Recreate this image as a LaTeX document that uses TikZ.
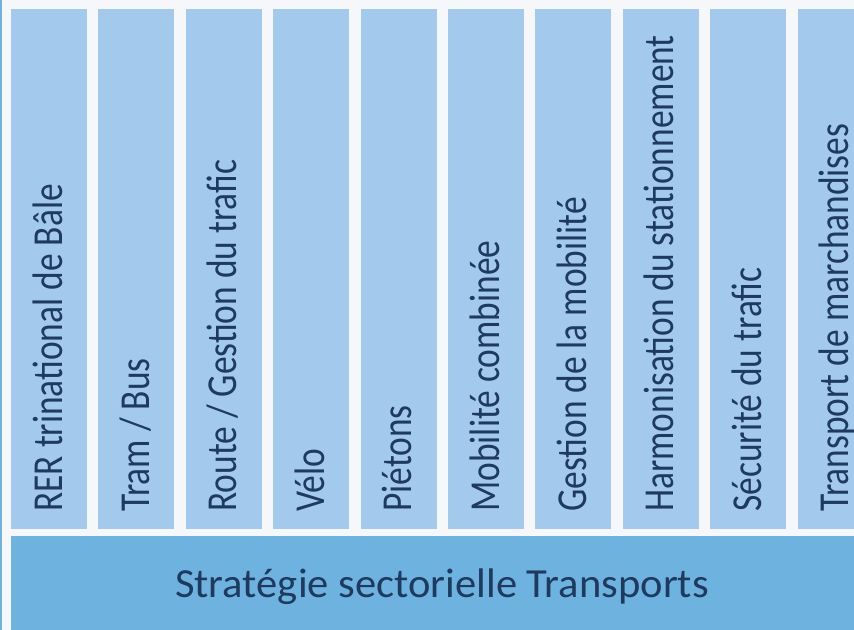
\documentclass[tikz,border=0pt]{standalone}
\usepackage{fontspec}
\setmainfont{Carlito}
\definecolor{pagebg}{HTML}{F5F7FB}
\definecolor{colfill}{HTML}{A3CAEC}
\definecolor{barfill}{HTML}{6EB2E0}
\definecolor{labelblue}{HTML}{1F3A5F}
\newcommand{\narrowtext}[1]{\scalebox{0.83}[1]{#1}}
\begin{document}
\begin{tikzpicture}[x=0.75pt,y=-0.75pt,
	column/.style={fill=colfill},
	collabel/.style={rotate=90,anchor=base west,inner sep=0pt,text=labelblue,font=\fontsize{32}{32}\selectfont},
	barlabel/.style={anchor=base,inner sep=0pt,text=labelblue,font=\fontsize{31}{31}\selectfont}]
	\fill[pagebg](0,0) rectangle (854,630);
	\useasboundingbox (0,0) rectangle (854,630);
	\fill[barfill](0,0) rectangle (2,630);
	% the ten fields
	\foreach \lab [count=\i] in {RER trinational de Bâle,Tram / Bus,Route / Gestion du trafic,Vélo,Piétons,Mobilité combinée,Gestion de la mobilité,Harmonisation du stationnement,Sécurité du trafic,Transport de marchandises}{
		\fill[column] ({11+87.4*(\i-1)},9) rectangle +(76,520);
		\node[collabel] (field\i) at ({11+87.4*(\i-1)+51},512) {\narrowtext{\lab}};
	}
	% the base
	\fill[barfill](11,536) rectangle (854,630);
	\node[barlabel] (strategy) at (442,598) {\scalebox{1.03}[1]{Stratégie sectorielle Transports}};
\end{tikzpicture}
\end{document}
